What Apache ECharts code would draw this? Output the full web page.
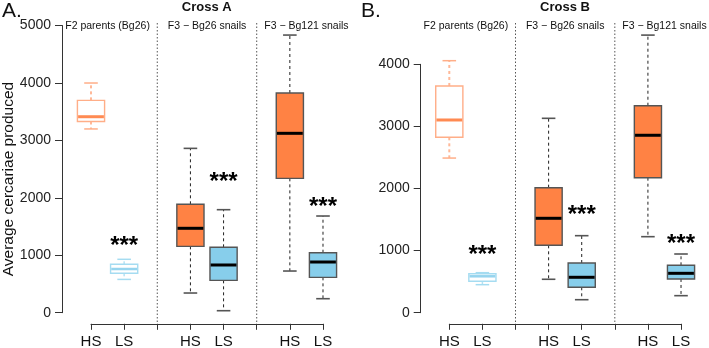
<!DOCTYPE html>
<html>
<head>
<meta charset="utf-8">
<script src="https://cdn.jsdelivr.net/npm/echarts@6/dist/echarts.min.js"></script>
<style>
html,body{margin:0;padding:0;background:#fff;}
#chart{width:709px;height:348px;}
</style>
</head>
<body>
<div id="chart"></div>
<script>
// ---- data ----
const boxPositions = [1, 2, 4, 5, 7, 8];
const boxTypes = ['HS', 'LS', 'HS', 'LS', 'HS', 'LS'];
const tickLabels = ['HS', 'LS', '', 'HS', 'LS', '', 'HS', 'LS'];
const groupNames = ['F2 parents (Bg26)', 'F3 \u2212 Bg26 snails', 'F3 \u2212 Bg121 snails'];
const groupCenters = [1.5, 4.5, 7.5];
const separators = [3, 6];
const starPositions = [2, 5, 8];

const crossAMin = [3200, 580, 343, 35, 726, 244];
const crossAQ1 = [3330, 686, 1156, 564, 2340, 616];
const crossAMed = [3413, 761, 1470, 831, 3124, 883];
const crossAQ3 = [3698, 843, 1888, 1139, 3826, 1045];
const crossAMax = [4000, 930, 2862, 1794, 4835, 1684];
const crossAStars = [1236, 2357, 1915];

const crossBMin = [2490, 451, 538, 209, 1224, 274];
const crossBQ1 = [2824, 506, 1085, 409, 2174, 543];
const crossBMed = [3103, 586, 1520, 570, 2857, 634];
const crossBQ3 = [3651, 628, 2013, 800, 3333, 763];
const crossBMax = [4058, 644, 3130, 1240, 4470, 945];
const crossBStars = [998, 1643, 1187];

const yTicksA = [0, 5000, 1000];
const yTicksB = [0, 4000, 1000];

// ---- styles ----
const FONT = "'Liberation Sans', Arial, Helvetica, sans-serif";
const HS_FILL = '#FF8244';
const LS_FILL = '#87CEEB';

function boxStyle(i) {
  const parent = boxPositions[i] < 3;
  const hs = boxTypes[i] === 'HS';
  if (parent) {
    return hs ? {fill: '#fff', border: '#FFAE88', med: '#FF8A52', whisk: '#FFB898', cap: '#FFAE88', wW: 2, capW: 1.5, medW: 3}
              : {fill: '#fff', border: '#A5DCF1', med: '#96D4EE', whisk: '#B5E2F3', cap: '#A5DCF1', wW: 1.5, capW: 1.5, medW: 2.5};
  }
  return {fill: hs ? HS_FILL : LS_FILL, border: '#555', med: '#000', whisk: '#222', cap: '#555', wW: 1, capW: 1.6, medW: 3};
}

function boxData(mn, q1, md, q3, mx) {
  return boxPositions.map((p, i) => [p, mn[i], q1[i], md[i], q3[i], mx[i], i]);
}

function renderBox(params, api) {
  const x = api.value(0);
  const i = api.value(6);
  const st = boxStyle(i);
  const w = api.size([0.82, 0])[0];
  const cw = w / 2;
  const px = api.coord([x, 0])[0];
  const y = k => api.coord([x, api.value(k)])[1];
  const yMin = y(1), yQ1 = y(2), yMed = y(3), yQ3 = y(4), yMax = y(5);
  return {
    type: 'group',
    children: [
      {type: 'line', shape: {x1: px, y1: yQ3, x2: px, y2: yMax}, style: {stroke: st.whisk, lineWidth: st.wW, lineDash: [3, 3]}},
      {type: 'line', shape: {x1: px, y1: yQ1, x2: px, y2: yMin}, style: {stroke: st.whisk, lineWidth: st.wW, lineDash: [3, 3]}},
      {type: 'line', shape: {x1: px - cw / 2, y1: yMax, x2: px + cw / 2, y2: yMax}, style: {stroke: st.cap, lineWidth: st.capW}},
      {type: 'line', shape: {x1: px - cw / 2, y1: yMin, x2: px + cw / 2, y2: yMin}, style: {stroke: st.cap, lineWidth: st.capW}},
      {type: 'rect', shape: {x: px - w / 2, y: yQ3, width: w, height: yQ1 - yQ3}, style: {fill: st.fill, stroke: st.border, lineWidth: 1.4}},
      {type: 'line', shape: {x1: px - w / 2 + 0.7, y1: yMed, x2: px + w / 2 - 0.7, y2: yMed}, style: {stroke: st.med, lineWidth: st.medW}}
    ]
  };
}

function renderStars(params, api) {
  const c = api.coord([api.value(0), api.value(1)]);
  return {type: 'text', style: {x: c[0], y: c[1] + 5, text: '***', fill: '#000', fontSize: 24, fontWeight: 'bold', fontFamily: FONT, align: 'center', verticalAlign: 'middle'}};
}

function renderGroup(params, api) {
  const c = api.coord([api.value(0), 0]);
  return {type: 'text', style: {x: c[0], y: 26, text: groupNames[params.dataIndex], fill: '#111', fontSize: 10.5, fontFamily: FONT, align: 'center', verticalAlign: 'middle'}};
}

function renderSep(params, api) {
  const c = api.coord([api.value(0), 0]);
  return {type: 'line', shape: {x1: c[0], y1: 23, x2: c[0], y2: 323}, style: {stroke: '#555', lineWidth: 1, lineDash: [1.5, 2]}};
}

const grids = [];
const xAxes = [];
const yAxes = [];
const series = [];

function addPanel(cfg) {
  const g0 = grids.length;
  // main data grid
  grids.push({left: cfg.mainLeft, top: cfg.mainTop, width: cfg.mainWidth, height: cfg.mainHeight, outerBoundsMode: 'none', containLabel: false});
  xAxes.push({gridIndex: g0, type: 'value', min: cfg.xMin, max: cfg.xMax, show: false});
  yAxes.push({gridIndex: g0, type: 'value', min: cfg.yMin, max: cfg.yMax, show: false});
  // y axis grid
  grids.push({left: cfg.mainLeft, top: cfg.yAxisTop, width: 1, height: cfg.yAxisHeight, outerBoundsMode: 'none', containLabel: false});
  xAxes.push({gridIndex: g0 + 1, type: 'value', show: false});
  yAxes.push({gridIndex: g0 + 1, type: 'value', min: cfg.yTicks[0], max: cfg.yTicks[1], interval: cfg.yTicks[2],
    axisLine: {show: true, lineStyle: {color: '#333', width: 1}},
    axisTick: {show: true, length: 7, lineStyle: {color: '#333', width: 1}},
    axisLabel: {show: true, fontSize: 14, color: '#222', fontFamily: FONT, margin: 11, showMinLabel: true, showMaxLabel: true,
      formatter: v => String(v)},
    splitLine: {show: false}});
  // x axis grid
  grids.push({left: cfg.xAxisLeft, top: 323.8, width: cfg.xAxisWidth, height: 1, outerBoundsMode: 'none', containLabel: false});
  xAxes.push({gridIndex: g0 + 2, type: 'value', min: 1, max: 8, interval: 1, position: 'top',
    axisLine: {show: true, onZero: false, lineStyle: {color: '#333', width: 1}},
    axisTick: {show: true, inside: true, length: 6, lineStyle: {color: '#333', width: 1}},
    axisLabel: {show: true, fontSize: 15, color: '#111', fontFamily: FONT, margin: -11, verticalAlign: 'top', showMinLabel: true, showMaxLabel: true,
      formatter: v => tickLabels[Math.round(v) - 1] || ''},
    splitLine: {show: false}});
  yAxes.push({gridIndex: g0 + 2, type: 'value', show: false});

  const common = {type: 'custom', xAxisIndex: g0, yAxisIndex: g0, silent: true, animation: false, clip: false};
  series.push(Object.assign({}, common, {renderItem: renderSep, data: separators.map(s => [s, 0])}));
  series.push(Object.assign({}, common, {renderItem: renderBox, data: boxData(cfg.mn, cfg.q1, cfg.md, cfg.q3, cfg.mx), encode: {x: 0, y: [1, 2, 3, 4, 5]}}));
  series.push(Object.assign({}, common, {renderItem: renderStars, data: starPositions.map((p, i) => [p, cfg.stars[i]])}));
  series.push(Object.assign({}, common, {renderItem: renderGroup, data: groupCenters.map(c => [c, 0])}));
}

addPanel({
  mainLeft: 62, mainTop: 14.1, mainWidth: 287.5, mainHeight: 310.1,
  xMin: 0.125, xMax: 8.8, yMin: -200, yMax: 5200,
  yAxisTop: 25.5, yAxisHeight: 287.2, yTicks: yTicksA,
  xAxisLeft: 91, xAxisWidth: 232,
  mn: crossAMin, q1: crossAQ1, md: crossAMed, q3: crossAQ3, mx: crossAMax, stars: crossAStars
});
addPanel({
  mainLeft: 420.7, mainTop: 23.3, mainWidth: 286.8, mainHeight: 301,
  xMin: 0.136, xMax: 8.8, yMin: -187, yMax: 4660,
  yAxisTop: 64.3, yAxisHeight: 248.4, yTicks: yTicksB,
  xAxisLeft: 449.3, xAxisWidth: 231.7,
  mn: crossBMin, q1: crossBQ1, md: crossBMed, q3: crossBQ3, mx: crossBMax, stars: crossBStars
});

const chart = echarts.init(document.getElementById('chart'), null, {renderer: 'canvas'});
chart.setOption({
  backgroundColor: '#fff',
  animation: false,
  grid: grids,
  xAxis: xAxes,
  yAxis: yAxes,
  series: series,
  graphic: [
    {type: 'text', x: 2, y: 11, style: {text: 'A.', fontSize: 21, fontFamily: FONT, fill: '#111', verticalAlign: 'middle'}},
    {type: 'text', x: 361, y: 11, style: {text: 'B.', fontSize: 21, fontFamily: FONT, fill: '#111', verticalAlign: 'middle'}},
    {type: 'text', x: 206.7, y: 7, style: {text: 'Cross A', fontSize: 13, fontWeight: 'bold', fontFamily: FONT, fill: '#111', align: 'center', verticalAlign: 'middle'}},
    {type: 'text', x: 565, y: 7, style: {text: 'Cross B', fontSize: 13, fontWeight: 'bold', fontFamily: FONT, fill: '#111', align: 'center', verticalAlign: 'middle'}},
    {type: 'text', x: 9, y: 179, rotation: Math.PI / 2, style: {text: 'Average cercariae produced', fontSize: 15.5, fontFamily: FONT, fill: '#111', align: 'center', verticalAlign: 'middle'}}
  ]
});
</script>
</body>
</html>
